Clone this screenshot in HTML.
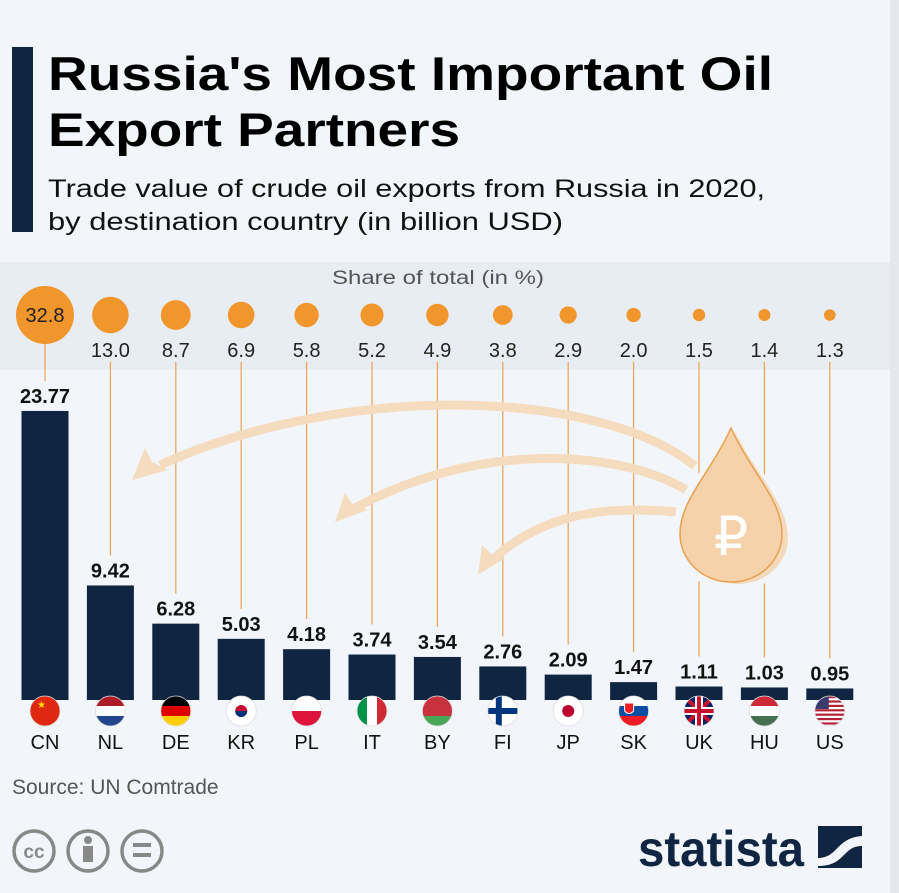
<!DOCTYPE html>
<html><head><meta charset="utf-8"><style>
html,body{margin:0;padding:0;background:#f2f6fa;}
svg{display:block;font-family:"Liberation Sans",sans-serif;}
</style></head><body>
<svg id="s" width="899" height="893" viewBox="0 0 899 893" xmlns="http://www.w3.org/2000/svg">
<rect width="899" height="893" fill="#f2f6fa"/>
<rect x="890" y="0" width="9" height="893" fill="#e4e7eb"/>
<rect x="0" y="262" width="890" height="108" fill="#e8edf3"/>
<rect x="12" y="47" width="21" height="185" fill="#0f2542"/>
<text x="48" y="90" font-size="47" font-weight="bold" fill="#000" textLength="725" lengthAdjust="spacingAndGlyphs">Russia's Most Important Oil</text>
<text x="48" y="146" font-size="47" font-weight="bold" fill="#000" textLength="412" lengthAdjust="spacingAndGlyphs">Export Partners</text>
<text x="48" y="197" font-size="25" fill="#111" textLength="717" lengthAdjust="spacingAndGlyphs">Trade value of crude oil exports from Russia in 2020,</text>
<text x="48" y="230" font-size="25" fill="#111" textLength="515" lengthAdjust="spacingAndGlyphs">by destination country (in billion USD)</text>
<text x="438" y="284" font-size="19" fill="#555" text-anchor="middle" textLength="212" lengthAdjust="spacingAndGlyphs">Share of total (in %)</text>
<g id="lines"></g>
<g fill="none" stroke="#f5dcbf" stroke-width="9" stroke-linecap="butt">
<path d="M695 466 C600 390 350 380 160 465"/>
<path d="M686 490 C620 450 480 440 355 508"/>
<path d="M676 512 C600 505 540 515 490 562"/>
</g>
<g fill="#f5dcbf">
<polygon points="132,480 145,448 152,462 168,470"/>
<polygon points="335,522 345,493 353,505 368,510"/>
<polygon points="478,575 482,545 492,555 505,558"/>
</g>
<path d="M731 420 C754 470 792 498 792 536 C792 566 766 592 734 592 C702 592 672 566 672 534 C672 498 708 470 731 420Z" fill="#f2f6fa"/>
<path d="M735 432 C760 480 788 505 788 538 C788 563 766 584 738 584 C710 584 688 563 688 538 C688 505 714 480 735 432Z" fill="#f5cfa3" opacity="0.7"/>
<path d="M731 428 C752 474 782 500 782 534 C782 560 760 582 731 582 C702 582 680 560 680 534 C680 500 710 474 731 428Z" fill="#f6d2aa" stroke="#e8a050" stroke-width="1.5"/>
<text x="731" y="555" font-size="54" fill="#fff" text-anchor="middle">₽</text>
<g id="cols"></g>
<text x="12" y="794" font-size="21" fill="#555">Source: UN Comtrade</text>
<g fill="none" stroke="#888" stroke-width="3.5">
<circle cx="34" cy="851" r="20"/><circle cx="88" cy="851" r="20"/><circle cx="142" cy="851" r="20"/>
</g>
<text x="34" y="858" font-size="19" font-weight="bold" fill="#888" text-anchor="middle">cc</text>
<circle cx="88" cy="840" r="4" fill="#888"/><rect x="83" y="846" width="10" height="16" fill="#888"/>
<rect x="133" y="843" width="18" height="4" fill="#888"/><rect x="133" y="853" width="18" height="4" fill="#888"/>
<text x="638" y="866" font-size="50" font-weight="bold" fill="#0f2542" textLength="166" lengthAdjust="spacingAndGlyphs">statista</text>
<rect x="818" y="826" width="44" height="42" fill="#0f2542"/>
<path d="M818 858 C838 858 836 838 862 836 L862 846 C842 846 846 866 818 866Z" fill="#f2f6fa"/>
</svg>
<script>
var d=[["CN",32.8,23.77],["NL",13.0,9.42],["DE",8.7,6.28],["KR",6.9,5.03],["PL",5.8,4.18],["IT",5.2,3.74],["BY",4.9,3.54],["FI",3.8,2.76],["JP",2.9,2.09],["SK",2.0,1.47],["UK",1.5,1.11],["HU",1.4,1.03],["US",1.3,0.95]];
var flags={CN:["#de2910","#de2910"],NL:["#ae1c28","#fff","#21468b"],DE:["#000","#dd0000","#ffce00"],KR:["#fff"],PL:["#fff","#dc143c"],IT:["v","#009246","#fff","#ce2b37"],BY:["#c8313e","#c8313e","#4aa657"],FI:["#fff"],JP:["#fff"],SK:["#fff","#0b4ea2","#ee1c25"],UK:["#012169"],HU:["#ce2939","#fff","#477050"],US:["#fff"]};
var h="",l="";
d.forEach(function(r,i){
 var cx=45+i*65.4, top=700-r[2]*12.16, rad=29*Math.sqrt(r[1]/32.8);
 var lt=i==0?344:362;
 l+='<line x1="'+cx+'" y1="'+lt+'" x2="'+cx+'" y2="'+(top-30)+'" stroke="#f0a65a" stroke-width="1.3"/>';
 h+='<circle cx="'+cx+'" cy="315" r="'+rad+'" fill="#f0962c"/>';
 if(i==0) h+='<text x="'+cx+'" y="322" font-size="20" text-anchor="middle" fill="#222">32.8</text>';
 else h+='<text x="'+cx+'" y="357" font-size="20" text-anchor="middle" fill="#222">'+r[1].toFixed(1)+'</text>';
 h+='<rect x="'+(cx-23.5)+'" y="'+top+'" width="47" height="'+(700-top)+'" fill="#0f2542"/>';
 h+='<text x="'+cx+'" y="'+(top-8)+'" font-size="20" font-weight="bold" text-anchor="middle" fill="#111">'+r[2].toFixed(2)+'</text>';
 var f=flags[r[0]],cid="c"+i;
 h+='<clipPath id="'+cid+'"><circle cx="'+cx+'" cy="711" r="15"/></clipPath><g clip-path="url(#'+cid+')">';
 if(f[0]=="v"){for(var k=0;k<3;k++)h+='<rect x="'+(cx-15+k*10)+'" y="696" width="10" height="30" fill="'+f[k+1]+'"/>';}
 else{var n=f.length;for(var k=0;k<n;k++)h+='<rect x="'+(cx-15)+'" y="'+(696+k*30/n)+'" width="30" height="'+(30/n+0.5)+'" fill="'+f[k]+'"/>';}
 if(r[0]=="CN")h+='<text x="'+(cx-8)+'" y="708" font-size="10" fill="#ffde00">★</text>';
 if(r[0]=="KR")h+='<circle cx="'+cx+'" cy="711" r="6" fill="#c60c30"/><path d="M'+(cx-6)+' 711 A6 6 0 0 0 '+(cx+6)+' 711Z" fill="#003478"/>';
 if(r[0]=="FI")h+='<rect x="'+(cx-7)+'" y="696" width="6" height="30" fill="#003580"/><rect x="'+(cx-15)+'" y="708" width="30" height="6" fill="#003580"/>';
 if(r[0]=="JP")h+='<circle cx="'+cx+'" cy="711" r="6" fill="#bc002d"/>';
 if(r[0]=="UK")h+='<path d="M'+(cx-15)+' 696 L'+(cx+15)+' 726 M'+(cx+15)+' 696 L'+(cx-15)+' 726" stroke="#c8102e" stroke-width="4"/><rect x="'+(cx-4)+'" y="696" width="8" height="30" fill="#fff"/><rect x="'+(cx-15)+'" y="707" width="30" height="8" fill="#fff"/><rect x="'+(cx-2)+'" y="696" width="4" height="30" fill="#c8102e"/><rect x="'+(cx-15)+'" y="709" width="30" height="4" fill="#c8102e"/>';
 if(r[0]=="US"){for(var k=0;k<7;k++)h+='<rect x="'+(cx-15)+'" y="'+(696+k*4.4)+'" width="30" height="2.2" fill="#b22234"/>';h+='<rect x="'+(cx-15)+'" y="696" width="14" height="13" fill="#3c3b6e"/>';}
 if(r[0]=="SK")h+='<path d="M'+(cx-9)+' 703 h9 v8 q-4.5 5 -9 0z" fill="#ee1c25" stroke="#fff"/>';
 h+='</g><circle cx="'+cx+'" cy="711" r="15" fill="none" stroke="#ddd" stroke-width="0.8"/>';
 h+='<text x="'+cx+'" y="749" font-size="20" text-anchor="middle" fill="#111">'+r[0]+'</text>';
});
document.getElementById("lines").innerHTML=l;
document.getElementById("cols").innerHTML=h;
</script>
</body></html>
